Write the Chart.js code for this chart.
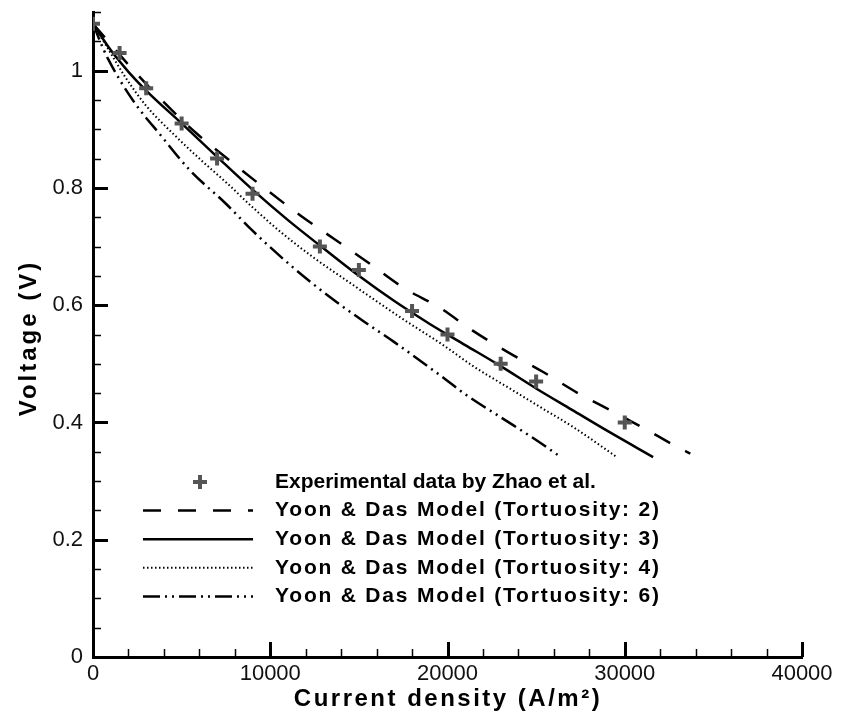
<!DOCTYPE html>
<html>
<head>
<meta charset="utf-8">
<script src="https://cdn.jsdelivr.net/npm/chart.js@4.4.1/dist/chart.umd.min.js"></script>
<style>
  html, body { margin: 0; padding: 0; background: #fff; }
  #chart { display: block; }
</style>
</head>
<body>
<canvas id="chart" width="841" height="719"></canvas>
<script>
// axis ticks
const xTicks = [0, 10000, 20000, 30000, 40000];
const yTicks = [0, 0.2, 0.4, 0.6, 0.8, 1];

// Experimental data by Zhao et al.
const expCurrent = [0, 1500, 3000, 5000, 7000, 9000, 12800, 15000, 18000, 20000, 23000, 25000, 30000];
const expVoltage = [1.08, 1.03, 0.97, 0.91, 0.85, 0.79, 0.70, 0.66, 0.59, 0.55, 0.50, 0.47, 0.40];

// Yoon & Das model, tortuosity 2
const t2Current = [0, 1000, 2000, 3900, 5800, 7700, 9700, 11700, 13650, 15600, 17500, 19600, 21400, 23400, 25400, 27300, 29300, 31200, 33100, 33700];
const t2Voltage = [1.08, 1.045, 1.01, 0.949, 0.894, 0.847, 0.799, 0.753, 0.712, 0.671, 0.630, 0.595, 0.557, 0.52, 0.486, 0.451, 0.419, 0.388, 0.356, 0.347];

// tortuosity 3
const t3Current = [0, 1000, 2000, 3000, 5000, 7000, 9000, 11000, 13000, 15000, 17000, 19000, 21000, 23000, 25000, 27000, 29000, 31600];
const t3Voltage = [1.08, 1.035, 0.998, 0.966, 0.91, 0.853, 0.797, 0.745, 0.697, 0.650, 0.607, 0.568, 0.532, 0.496, 0.458, 0.422, 0.386, 0.341];

// tortuosity 4
const t4Current = [0, 700, 1800, 3000, 4500, 6000, 7600, 9000, 10700, 12500, 14500, 17300, 19750, 21500, 23400, 25300, 27100, 29550];
const t4Voltage = [1.08, 1.045, 0.99, 0.94, 0.893, 0.85, 0.807, 0.767, 0.722, 0.68, 0.638, 0.58, 0.532, 0.495, 0.46, 0.425, 0.392, 0.341];

// tortuosity 6
const t6Current = [0, 400, 850, 2260, 3840, 5470, 7500, 9000, 11300, 13400, 15200, 17000, 19600, 21100, 23100, 25000, 26250];
const t6Voltage = [1.08, 1.05, 1.02, 0.949, 0.889, 0.83, 0.773, 0.727, 0.664, 0.613, 0.574, 0.537, 0.48, 0.446, 0.407, 0.37, 0.344];

const seriesLabels = [
    "Experimental data by Zhao et al.",
    "Yoon & Das Model (Tortuosity: 2)",
    "Yoon & Das Model (Tortuosity: 3)",
    "Yoon & Das Model (Tortuosity: 4)",
    "Yoon & Das Model (Tortuosity: 6)"
];

const FONT = "'Liberation Sans', Arial, sans-serif";

function pts(xs, ys) {
    return xs.map((x, i) => ({ x: x, y: ys[i] }));
}

function curve(label, xs, ys, dash, width) {
    return {
        label: label,
        data: pts(xs, ys),
        showLine: true,
        borderColor: "#000",
        borderWidth: width,
        borderDash: dash,
        pointRadius: 0,
        cubicInterpolationMode: "monotone",
        fill: false
    };
}

// inward ticks, axis titles and the legend inside the plot
const decor = {
    id: "decor",
    afterDraw(chart) {
        const c = chart.ctx;
        const xs = chart.scales.x, ys = chart.scales.y;
        const area = chart.chartArea;
        c.save();
        c.strokeStyle = "#000";

        // x ticks (minor every 2000)
        for (let i = 0; i <= 20; i++) {
            const v = i * 2000;
            const major = xTicks.includes(v);
            const px = Math.round(xs.getPixelForValue(v)) + 0.5;
            c.lineWidth = major ? 3 : 1.5;
            c.beginPath();
            c.moveTo(px, area.bottom);
            c.lineTo(px, area.bottom - (major ? 15 : 8));
            c.stroke();
        }
        // y ticks (minor every 0.05)
        for (let i = 0; i <= 22; i++) {
            const major = i % 4 === 0 && i <= 20;
            const py = Math.round(ys.getPixelForValue(i * 0.05)) + 0.5;
            c.lineWidth = major ? 3 : 1.5;
            c.beginPath();
            c.moveTo(area.left, py);
            c.lineTo(area.left + (major ? 15 : 8), py);
            c.stroke();
        }

        // axis titles
        c.fillStyle = "#000";
        c.font = "bold 24px " + FONT;
        c.letterSpacing = "2.5px";
        c.textAlign = "center";
        c.textBaseline = "middle";
        c.fillText("Current density (A/m²)", 448, 699);
        c.save();
        c.translate(29, 338);
        c.rotate(-Math.PI / 2);
        c.letterSpacing = "3px";
        c.fillText("Voltage (V)", 0, 0);
        c.restore();

        // legend
        c.font = "bold 21px " + FONT;
        c.textAlign = "left";
        const ds = chart.data.datasets;
        for (let i = 0; i < ds.length; i++) {
            const y = 482 + i * 28.6;
            if (i === 0) {
                c.strokeStyle = ds[0].borderColor;
                c.lineWidth = 4;
                c.beginPath();
                c.moveTo(193, y); c.lineTo(207, y);
                c.moveTo(200, y - 7); c.lineTo(200, y + 7);
                c.stroke();
            } else {
                c.strokeStyle = "#000";
                c.lineWidth = ds[i].borderWidth;
                c.setLineDash(ds[i].borderDash || []);
                c.beginPath();
                c.moveTo(143, y); c.lineTo(253, y);
                c.stroke();
                c.setLineDash([]);
            }
            c.fillStyle = "#000";
            c.letterSpacing = i === 0 ? "0px" : "1.8px";
            c.fillText(ds[i].label, 275, y);
        }
        c.restore();
    }
};

const ctx = document.getElementById("chart").getContext("2d");
new Chart(ctx, {
    type: "scatter",
    data: {
        datasets: [
            {
                label: seriesLabels[0],
                data: pts(expCurrent, expVoltage),
                pointStyle: "cross",
                pointRadius: 7,
                pointBorderWidth: 4,
                borderColor: "#555",
                backgroundColor: "#555",
                showLine: false
            },
            curve(seriesLabels[1], t2Current, t2Voltage, [18, 17], 2.5),
            curve(seriesLabels[2], t3Current, t3Voltage, [], 2.5),
            curve(seriesLabels[3], t4Current, t4Voltage, [1.5, 2.5], 2),
            curve(seriesLabels[4], t6Current, t6Voltage, [17, 5, 2, 5, 2, 5], 2.5)
        ]
    },
    options: {
        responsive: false,
        animation: false,
        events: [],
        layout: { padding: { top: 12, right: 39, left: 0, bottom: 0 } },
        plugins: { legend: { display: false }, tooltip: { enabled: false } },
        scales: {
            x: {
                type: "linear",
                min: 0,
                max: 40000,
                afterBuildTicks: s => { s.ticks = xTicks.map(v => ({ value: v })); },
                afterFit: s => { s.height = 62; s.paddingLeft = 0; s.paddingRight = 0; },
                grid: { drawOnChartArea: false, drawTicks: false },
                border: { display: true, width: 3, color: "#000" },
                ticks: {
                    padding: 4, color: "#111", maxRotation: 0, autoSkip: false,
                    font: { family: FONT, size: 22 },
                    callback: v => String(v)
                }
            },
            y: {
                type: "linear",
                min: 0,
                max: 1.1,
                afterBuildTicks: s => { s.ticks = yTicks.map(v => ({ value: v })); },
                afterFit: s => { s.width = 93; s.paddingTop = 0; s.paddingBottom = 0; },
                grid: { drawOnChartArea: false, drawTicks: false },
                border: { display: true, width: 3, color: "#000" },
                ticks: {
                    padding: 10, color: "#111", autoSkip: false,
                    font: { family: FONT, size: 22 },
                    callback: v => String(v)
                }
            }
        }
    },
    plugins: [decor]
});
</script>
</body>
</html>
